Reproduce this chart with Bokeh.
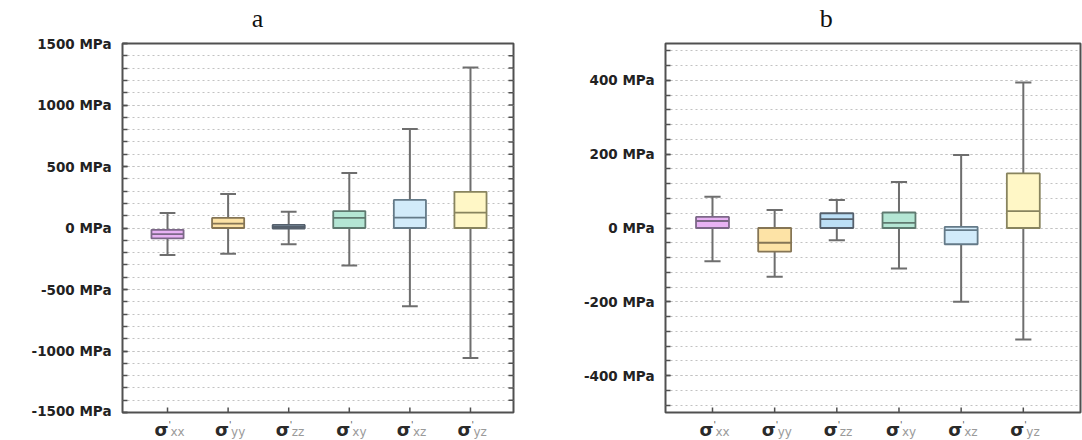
from bokeh.plotting import figure
from bokeh.layouts import row, column
from bokeh.models import (Range1d, SingleIntervalTicker, PrintfTickFormatter,
                          ColumnDataSource)
from bokeh.core.properties import value
from bokeh.embed import file_html
from bokeh.resources import INLINE

# ---------------- data ----------------
categories = ["xx", "yy", "zz", "xy", "xz", "yz"]

# panel a (MPa)
a_lower  = [-220, -210, -133, -305, -636, -1057]
a_q1     = [-85, 0, -5, 0, 0, 0]
a_median = [-50, 35, 8, 82, 84, 125]
a_q3     = [-15, 82, 25, 138, 228, 293]
a_upper  = [122, 277, 133, 448, 804, 1304]

# panel b (MPa)
b_lower  = [-90, -132, -33, -110, -200, -302]
b_q1     = [0, -64, 0, 0, -44, 0]
b_median = [19, -40, 24, 14, -6, 46]
b_q3     = [30, 0, 40, 42, 3, 148]
b_upper  = [85, 49, 76, 125, 198, 394]

fills_a = ["#e8b2f4", "#fde3a6", "#a9c8e0", "#b4e6d4", "#d2ebfa", "#fff7c6"]
fills_b = ["#e8b2f4", "#fde3a6", "#bcdff6", "#b4e6d4", "#d2ebfa", "#fff7c6"]
edges   = ["#7c6888", "#857555", "#55606c", "#5f7a70", "#647a88", "#88845e"]

GRID = "#c2c2c2"
FRAME = "#505050"
FRAME_H = 369  # frame height in px


def strip(width, height, xr, bl, br):
    f = figure(width=width, height=height, output_backend="svg",
               toolbar_location=None, x_range=Range1d(*xr), y_range=Range1d(0, height),
               x_axis_location=None, y_axis_location=None,
               min_border_left=bl, min_border_right=br, min_border_top=0,
               min_border_bottom=0)
    f.outline_line_color = None
    f.xgrid.visible = False
    f.ygrid.visible = False
    return f


def make_panel(title, lower, q1, med, q3, upper, fills, yr, major, nminor,
               xr, width, bl, br, title_x, right_ticks):
    # ---- title strip ----
    t = strip(width, 35, xr, bl, br)
    t.text(x=[title_x], y=[17], text=[title], text_align="center",
           text_baseline="middle", text_font=value("Liberation Serif"),
           text_font_size="26px", text_color="#111111")

    # ---- main plot ----
    p = figure(width=width, height=383, output_backend="svg",
               toolbar_location=None, x_range=Range1d(*xr), y_range=Range1d(*yr),
               x_axis_location=None,
               min_border_left=bl, min_border_right=br, min_border_top=8,
               min_border_bottom=6, background_fill_color="white",
               border_fill_color="white")
    p.outline_line_color = FRAME
    p.outline_line_width = 2
    p.outline_line_alpha = 1.0

    xs = list(range(len(categories)))
    src = ColumnDataSource(dict(x=xs, lower=lower, q1=q1, med=med, q3=q3,
                                upper=upper, fill=fills, edge=edges))
    p.segment(x0="x", x1="x", y0="q3", y1="upper", source=src,
              line_color="#6e6e6e", line_width=2)
    p.segment(x0="x", x1="x", y0="lower", y1="q1", source=src,
              line_color="#6e6e6e", line_width=2)
    cw = 0.13
    p.segment(x0=[x - cw for x in xs], x1=[x + cw for x in xs], y0=upper, y1=upper,
              line_color="#6e6e6e", line_width=2)
    p.segment(x0=[x - cw for x in xs], x1=[x + cw for x in xs], y0=lower, y1=lower,
              line_color="#6e6e6e", line_width=2)
    bw = 0.53
    p.vbar(x="x", top="q3", bottom="q1", width=bw, source=src,
           fill_color="fill", line_color="edge", line_width=1.8)
    p.segment(x0=[x - bw / 2 for x in xs], x1=[x + bw / 2 for x in xs], y0=med, y1=med,
              line_color=edges, line_width=1.8)

    # category ticks (inside, bottom)
    ytick = (yr[1] - yr[0]) * 5 / FRAME_H
    p.segment(x0=xs, x1=xs, y0=[yr[0]] * len(xs), y1=[yr[0] + ytick] * len(xs),
              line_color=FRAME, line_width=1.5)

    # mirrored ticks on the right edge
    if right_ticks:
        frame_w = width - bl - br
        xtick = (xr[1] - xr[0]) * 5 / frame_w
        step = major // nminor
        tv = list(range(yr[0] + step, yr[1], step))
        p.segment(x0=[xr[1]] * len(tv), x1=[xr[1] - xtick] * len(tv), y0=tv, y1=tv,
                  line_color=FRAME, line_width=1.5)

    yax = p.yaxis[0]
    yax.ticker = SingleIntervalTicker(interval=major, num_minor_ticks=nminor)
    yax.formatter = PrintfTickFormatter(format="%d MPa")
    yax.major_label_text_font = "DejaVu Sans"
    yax.major_label_text_font_style = "bold"
    yax.major_label_text_font_size = "13.5px"
    yax.major_label_text_color = "#222222"
    yax.major_label_standoff = 11
    yax.axis_line_color = None
    yax.major_tick_in = 5
    yax.major_tick_out = 0
    yax.minor_tick_in = 5
    yax.minor_tick_out = 0
    yax.major_tick_line_color = FRAME
    yax.minor_tick_line_color = FRAME
    yax.major_tick_line_width = 1.5
    yax.minor_tick_line_width = 1.5

    p.xgrid.grid_line_color = None
    p.ygrid.grid_line_color = GRID
    p.ygrid.grid_line_dash = "2 3"
    p.ygrid.grid_line_width = 1.2
    p.ygrid.minor_grid_line_color = GRID
    p.ygrid.minor_grid_line_dash = "2 3"
    p.ygrid.minor_grid_line_width = 1.2

    # ---- category label strip ----
    n = len(xs)
    l = strip(width, 22, xr, bl, br)
    l.text(x=xs, y=[11] * n, x_offset=1, text=["σ"] * n, text_align="right",
           text_baseline="middle", text_font=value("DejaVu Sans"),
           text_font_style="bold", text_font_size="18px", text_color="#2a2a2a")
    l.text(x=xs, y=[16] * n, x_offset=1, text=["'"] * n, text_align="left",
           text_baseline="middle", text_font=value("DejaVu Sans"),
           text_font_size="9px", text_color="#555555")
    l.text(x=xs, y=[9] * n, x_offset=3, text=categories, text_align="left",
           text_baseline="middle", text_font=value("DejaVu Sans"),
           text_font_size="12px", text_color="#9a9a9a")

    return column(t, p, l)


c1 = make_panel("a", a_lower, a_q1, a_median, a_q3, a_upper, fills_a,
                (-1500, 1500), 500, 5, (-0.743, 5.71), 540, 122, 27, 1.485, True)
c2 = make_panel("b", b_lower, b_q1, b_median, b_q3, b_upper, fills_b,
                (-500, 500), 200, 5, (-0.756, 5.92), 542, 125, 2, 1.83, False)

layout = row(c1, c2)
open("out.html", "w").write(file_html(layout, INLINE))
